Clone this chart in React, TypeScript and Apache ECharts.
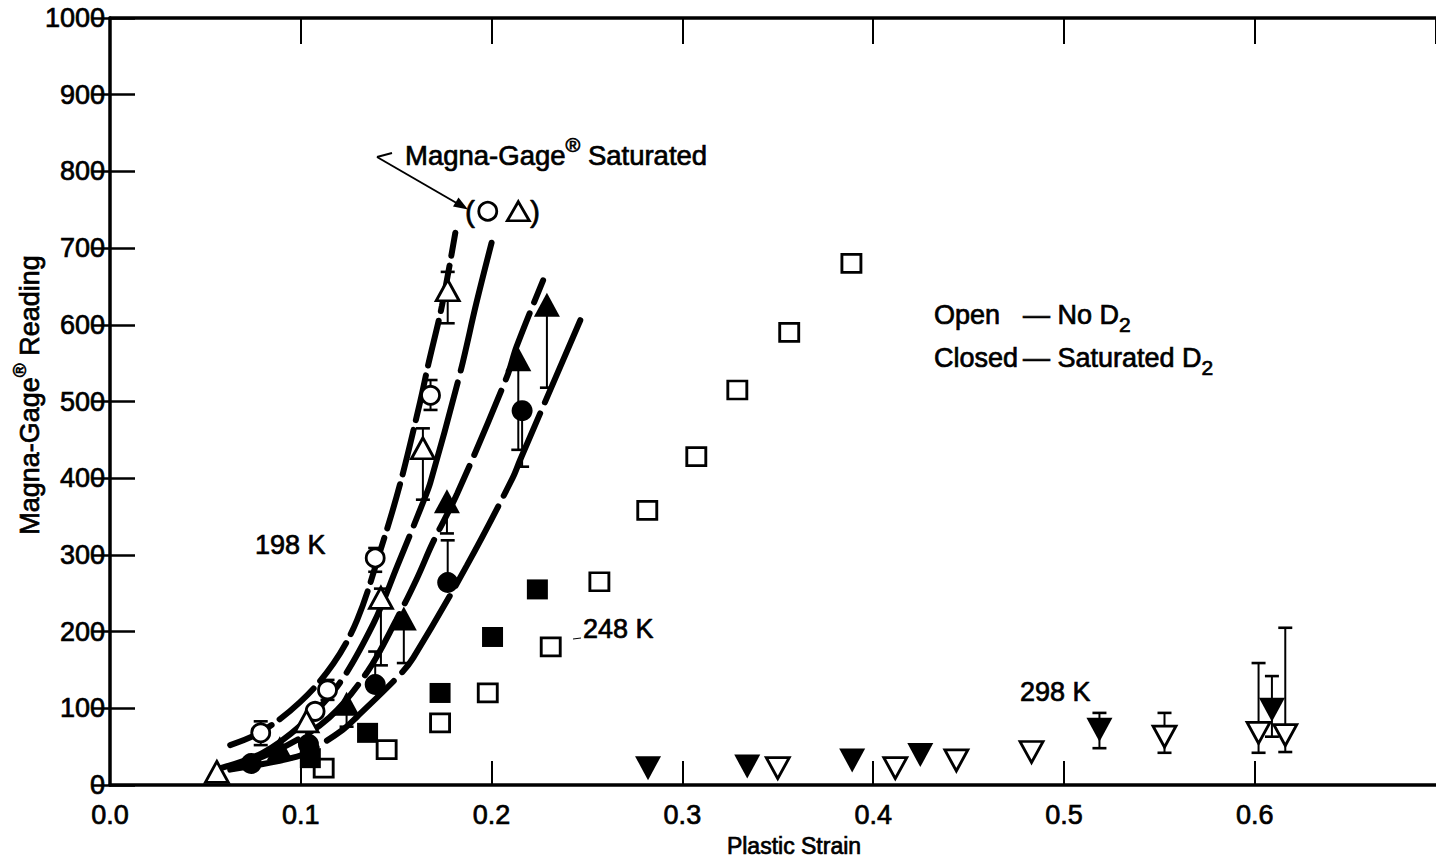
import React, { useEffect, useRef } from "react";
import * as echarts from "echarts";

// ---- Data (strain, Magna-Gage reading) ----
// 198 K
const openCircle198 = [[0.079, 68], [0.1075, 96], [0.114, 124], [0.139, 296], [0.168, 508]];
const openCircle198Err = [[0.079, 68, 52, 83], [0.114, 124, 111, 137], [0.139, 296, 278, 309], [0.168, 508, 489, 528]];
const openTri198 = [[0.056, 17], [0.103, 83], [0.142, 244], [0.164, 439], [0.177, 645]];
const openTri198Err = [[0.142, 244, 156, 256], [0.164, 439, 372, 465], [0.177, 645, 602, 669]];
const closedCircle198 = [[0.074, 28], [0.104, 53], [0.139, 131], [0.177, 264], [0.216, 488]];
const closedCircle198Err = [[0.139, 131, 131, 174], [0.177, 264, 264, 319], [0.216, 488, 415, 488]];
const closedTri198 = [[0.089, 48], [0.124, 106], [0.154, 217], [0.1766, 370], [0.214, 555], [0.229, 626]];
const closedTri198Err = [[0.124, 106, 76, 106], [0.154, 217, 159, 217], [0.1766, 370, 328, 370], [0.214, 555, 437, 555], [0.229, 626, 518, 626]];
const saturatedCircle = [[0.198, 748]];
const saturatedTri = [[0.214, 748]];

// 248 K
const openSquare248 = [[0.112, 22], [0.145, 46], [0.173, 81], [0.198, 120], [0.231, 180], [0.2565, 265], [0.2816, 358], [0.3073, 428], [0.3288, 515], [0.356, 590], [0.3886, 680]];
const closedSquare248 = [[0.105, 35], [0.135, 68], [0.173, 120], [0.2005, 193], [0.224, 255]];

// 298 K
const openDown298 = [[0.35, 22], [0.4116, 22], [0.4436, 32], [0.483, 43], [0.5527, 63], [0.602, 68], [0.616, 65]];
const openDown298Err = [[0.5527, 63, 42, 94], [0.602, 68, 42, 159], [0.616, 65, 43, 205]];
const closedDown298 = [[0.282, 22], [0.334, 24], [0.389, 32], [0.4247, 39], [0.5186, 72], [0.609, 98]];
const closedDown298Err = [[0.5186, 72, 48, 94], [0.609, 98, 63, 142]];

// Hand-drawn fit curves
const curveOpenCircle = [[0.063, 52], [0.079, 69], [0.0996, 108], [0.117, 158], [0.1295, 215], [0.1416, 305], [0.152, 392], [0.1626, 500], [0.1668, 548], [0.174, 625], [0.181, 720]];
const curveOpenTri = [[0.058, 22], [0.08, 42], [0.1, 78], [0.119, 128], [0.138, 210], [0.1505, 285], [0.164, 368], [0.168, 395], [0.1835, 537], [0.192, 628], [0.2, 707]];
const curveClosedTri = [[0.065, 22], [0.093, 52], [0.115, 88], [0.135, 148], [0.15, 215], [0.161, 270], [0.169, 315], [0.182, 380], [0.208, 532], [0.213, 571], [0.227, 658]];
const curveClosedCircle = [[0.063, 20], [0.098, 37], [0.1085, 50], [0.122, 72], [0.1295, 89], [0.152, 144], [0.159, 166], [0.187, 286], [0.211, 400], [0.215, 424], [0.2465, 606]];

const X_MIN = 0;
const X_MAX = 0.695;
const X_STEP = 0.1;
const Y_MIN = 0;
const Y_MAX = 1000;
const Y_STEP = 100;

const FONT = "Liberation Sans, Arial, Helvetica, sans-serif";
const INK = 0.7; // outline width to mimic the heavy scanned type

export default function App() {
  const ref = useRef<HTMLDivElement>(null);

  useEffect(() => {
    document.body.style.margin = "0";
    const chart = echarts.init(ref.current!, null, { renderer: "svg" });

    const scatter = (data: number[][], symbol: string, filled: boolean, size: any, rotate = 0) => ({
      type: "scatter",
      data,
      symbol,
      symbolSize: size,
      symbolRotate: rotate,
      itemStyle: {
        color: filled ? "#000" : "#fff",
        borderColor: "#000",
        borderWidth: filled ? 0 : 2.8,
        opacity: 1,
      },
      z: 5,
      silent: true,
    });

    const errorBars = (data: number[][]) => ({
      type: "custom",
      data,
      z: 3,
      silent: true,
      encode: { x: 0, y: 1 },
      renderItem: (_params: any, api: any) => {
        const x = api.value(0);
        const y = api.value(1);
        const lo = api.value(2);
        const hi = api.value(3);
        const pLo = api.coord([x, lo]);
        const pHi = api.coord([x, hi]);
        const cap = 7;
        const children: any[] = [
          { type: "line", shape: { x1: pLo[0], y1: pLo[1], x2: pHi[0], y2: pHi[1] }, style: { stroke: "#000", lineWidth: 2 } },
        ];
        if (lo < y) children.push({ type: "line", shape: { x1: pLo[0] - cap, y1: pLo[1], x2: pLo[0] + cap, y2: pLo[1] }, style: { stroke: "#000", lineWidth: 2.6 } });
        if (hi > y) children.push({ type: "line", shape: { x1: pHi[0] - cap, y1: pHi[1], x2: pHi[0] + cap, y2: pHi[1] }, style: { stroke: "#000", lineWidth: 2.6 } });
        return { type: "group", children };
      },
    });

    const curve = (data: number[][], dash: number[]) => ({
      type: "line",
      data,
      smooth: 0.35,
      showSymbol: false,
      symbol: "none",
      silent: true,
      z: 2,
      lineStyle: { color: "#000", width: 6, type: dash, cap: "round" },
    });

    const textStyle = { fontFamily: FONT, fontSize: 27, fill: "#000", stroke: "#000", lineWidth: INK };

    const option: any = {
      animation: false,
      backgroundColor: "#fff",
      grid: { left: 110, right: 0, top: 18, bottom: 75, containLabel: false },
      xAxis: [
        {
          type: "value",
          position: "bottom",
          min: X_MIN,
          max: X_MAX,
          interval: X_STEP,
          axisLine: { show: true, onZero: false, lineStyle: { color: "#000", width: 3.5 } },
          axisTick: { show: true, inside: true, length: 24, lineStyle: { color: "#000", width: 2 } },
          axisLabel: {
            show: true,
            margin: 16,
            color: "#000",
            fontFamily: FONT,
            fontSize: 27,
            textBorderColor: "#000",
            textBorderWidth: INK,
            showMaxLabel: false,
            formatter: (v: number) => (v > 0.65 ? "" : v.toFixed(1)),
          },
          splitLine: { show: false },
        },
        {
          type: "value",
          position: "top",
          min: X_MIN,
          max: X_MAX,
          interval: X_STEP,
          axisLine: { show: true, onZero: false, lineStyle: { color: "#000", width: 3.5 } },
          axisTick: { show: true, inside: true, length: 26, lineStyle: { color: "#000", width: 2 } },
          axisLabel: { show: false },
          splitLine: { show: false },
        },
      ],
      yAxis: [
        {
          type: "value",
          position: "left",
          min: Y_MIN,
          max: Y_MAX,
          interval: Y_STEP,
          axisLine: { show: true, onZero: false, lineStyle: { color: "#000", width: 3.5 } },
          axisTick: { show: true, inside: true, length: 25, lineStyle: { color: "#000", width: 2.5 } },
          axisLabel: {
            show: true,
            margin: 5,
            color: "#000",
            fontFamily: FONT,
            fontSize: 27,
            textBorderColor: "#000",
            textBorderWidth: INK,
            formatter: (v: number) => String(v),
          },
          splitLine: { show: false },
        },
        {
          type: "value",
          position: "right",
          min: Y_MIN,
          max: Y_MAX,
          interval: Y_STEP,
          axisLine: { show: false },
          axisTick: { show: true, inside: true, length: 17, lineStyle: { color: "#000", width: 2.5 } },
          axisLabel: { show: false },
          splitLine: { show: false },
        },
      ],
      series: [
        curve(curveOpenCircle, [46, 10]),
        curve(curveOpenTri, [150, 12]),
        curve(curveClosedTri, [70, 12]),
        curve(curveClosedCircle, [90, 12]),
        errorBars(openCircle198Err),
        errorBars(openTri198Err),
        errorBars(closedCircle198Err),
        errorBars(closedTri198Err),
        errorBars(openDown298Err),
        errorBars(closedDown298Err),
        scatter(openCircle198, "circle", false, 18),
        scatter(openTri198, "triangle", false, [23, 21]),
        scatter(closedCircle198, "circle", true, 21),
        scatter(closedTri198, "triangle", true, [26, 24]),
        scatter(saturatedCircle, "circle", false, 18),
        scatter(saturatedTri, "triangle", false, [22, 19]),
        scatter(openSquare248, "rect", false, [19, 18]),
        scatter(closedSquare248, "rect", true, [21, 20]),
        scatter(openDown298, "triangle", false, [23, 21], 180),
        scatter(closedDown298, "triangle", true, [26, 24], 180),
      ],
      graphic: [
        // y-axis title
        {
          type: "text",
          x: 30,
          y: 395,
          rotation: Math.PI / 2,
          style: {
            text: "Magna-Gage{sup|®} Reading",
            fontFamily: FONT,
            fontSize: 27,
            fill: "#000",
            stroke: "#000",
            lineWidth: INK,
            align: "center",
            verticalAlign: "middle",
            rich: { sup: { fontFamily: FONT, fontSize: 19, verticalAlign: "top", lineHeight: 40 } },
            lineHeight: 40,
          },
        },
        // x-axis title
        {
          type: "text",
          x: 794,
          y: 846,
          style: { text: "Plastic Strain", fontFamily: FONT, fontSize: 23, fill: "#000", stroke: "#000", lineWidth: INK, align: "center", verticalAlign: "middle" },
        },
        // Saturated annotation
        {
          type: "text",
          x: 405,
          y: 155,
          style: {
            text: "Magna-Gage{sup|®} Saturated",
            fontFamily: FONT,
            fontSize: 27.5,
            fill: "#000",
            stroke: "#000",
            lineWidth: INK,
            align: "left",
            verticalAlign: "middle",
            lineHeight: 40,
            rich: { sup: { fontFamily: FONT, fontSize: 20, verticalAlign: "top", lineHeight: 40 } },
          },
        },
        { type: "line", shape: { x1: 377, y1: 157, x2: 392, y2: 153 }, style: { stroke: "#000", lineWidth: 2 } },
        { type: "line", shape: { x1: 377, y1: 157, x2: 460, y2: 205 }, style: { stroke: "#000", lineWidth: 2 } },
        { type: "polygon", shape: { points: [[468, 209.5], [453, 206.5], [458.5, 197.5]] }, style: { fill: "#000" } },
        { type: "text", x: 465, y: 211, style: { text: "(", ...textStyle, fontSize: 30, align: "left", verticalAlign: "middle" } },
        { type: "text", x: 530, y: 211, style: { text: ")", ...textStyle, fontSize: 30, align: "left", verticalAlign: "middle" } },
        // temperature labels
        { type: "text", x: 255, y: 545, style: { text: "198 K", ...textStyle, align: "left", verticalAlign: "middle" } },
        { type: "line", shape: { x1: 573, y1: 639, x2: 581, y2: 638 }, style: { stroke: "#000", lineWidth: 1 } },
        { type: "text", x: 583, y: 629, style: { text: "248 K", ...textStyle, align: "left", verticalAlign: "middle" } },
        { type: "text", x: 1020, y: 692, style: { text: "298 K", ...textStyle, align: "left", verticalAlign: "middle" } },
        // key
        { type: "text", x: 934, y: 315, style: { text: "Open", ...textStyle, align: "left", verticalAlign: "middle" } },
        {
          type: "text",
          x: 1023,
          y: 315,
          style: {
            text: "— No D{sub|2}",
            ...textStyle,
            align: "left",
            verticalAlign: "middle",
            lineHeight: 40,
            rich: { sub: { fontFamily: FONT, fontSize: 21, verticalAlign: "bottom", lineHeight: 40 } },
          },
        },
        { type: "text", x: 934, y: 358, style: { text: "Closed", ...textStyle, align: "left", verticalAlign: "middle" } },
        {
          type: "text",
          x: 1023,
          y: 358,
          style: {
            text: "— Saturated D{sub|2}",
            ...textStyle,
            align: "left",
            verticalAlign: "middle",
            lineHeight: 40,
            rich: { sub: { fontFamily: FONT, fontSize: 21, verticalAlign: "bottom", lineHeight: 40 } },
          },
        },
      ],
    };

    chart.setOption(option);
    return () => chart.dispose();
  }, []);

  return <div ref={ref} style={{ width: 1436, height: 860, background: "#fff" }} />;
}
